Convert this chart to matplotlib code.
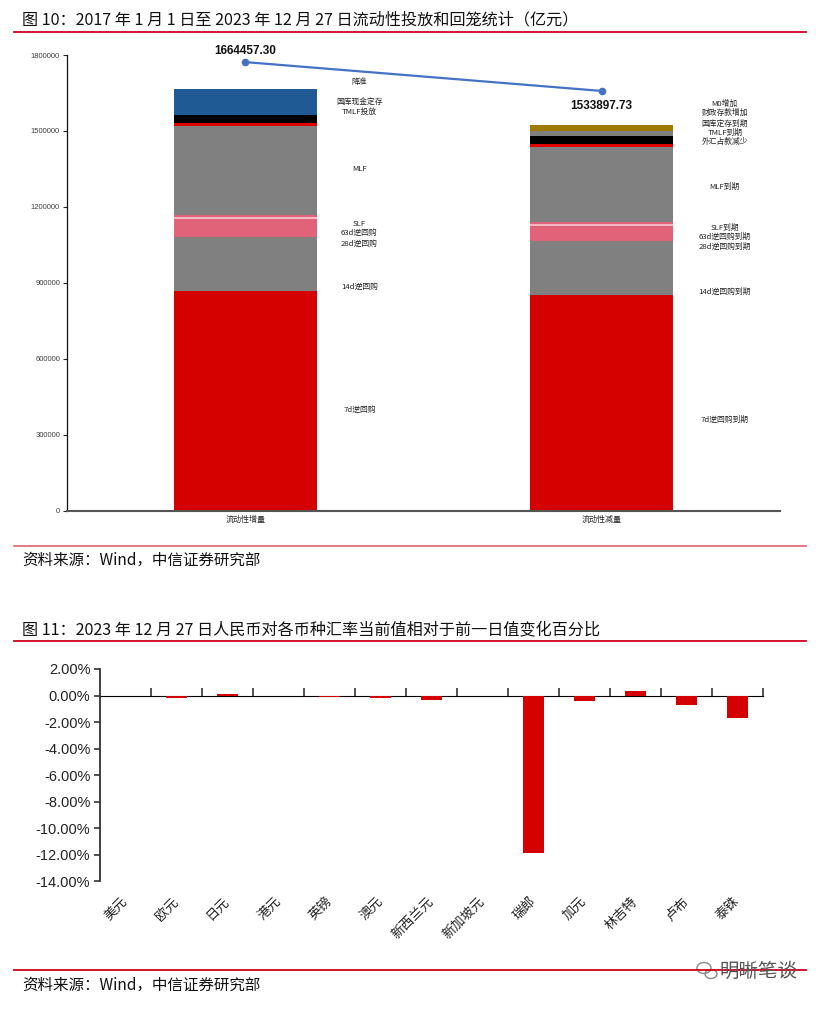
import matplotlib
matplotlib.use('Agg')
import matplotlib.pyplot as plt
from matplotlib.lines import Line2D
from matplotlib.patches import Ellipse
import numpy as np

plt.rcParams['font.family'] = ['Noto Sans CJK SC', 'DejaVu Sans']

# ---------------- data: chart 10 ----------------
flow_categories = ['流动性增量', '流动性减量']
inflow_items = ['7d逆回购', '14d逆回购', '28d逆回购', '63d逆回购', 'SLF', 'MLF',
                'TMLF投放', '国库现金定存', '降准']
inflow_values = [869000, 211000, 72000, 6600, 9200, 351500, 10700, 32800, 101657.30]
outflow_items = ['7d逆回购到期', '14d逆回购到期', '28d逆回购到期', '63d逆回购到期', 'SLF到期',
                 'MLF到期', '外汇占款减少', 'TMLF到期', '国库定存到期', '财政存款增加', 'M0增加']
outflow_values = [853200, 212100, 59200, 6000, 9200, 298100, 11800, 31600, 18600, 23700, 10397.73]
total_labels = ['1664457.30', '1533897.73']
connector_values = [1772000, 1658000]
top_yticks = [0, 300000, 600000, 900000, 1200000, 1500000, 1800000]

# ---------------- data: chart 11 ----------------
currencies = ['美元', '欧元', '日元', '港元', '英镑', '澳元', '新西兰元', '新加坡元',
              '瑞郎', '加元', '林吉特', '卢布', '泰铢']
fx_change = [-0.01, -0.15, 0.08, -0.01, -0.10, -0.22, -0.30, -0.02,
             -11.88, -0.43, 0.33, -0.70, -1.73]
pct_ticks = [2, 0, -2, -4, -6, -8, -10, -12, -14]

# ---------------- styles / layout ----------------
inflow_colors = ['#D50000', '#808080', '#E0637A', '#F2B9C2', '#E0637A', '#808080',
                 '#E00000', '#000000', '#1F5A94']
outflow_colors = ['#D50000', '#808080', '#E0637A', '#F2B9C2', '#E0637A', '#808080',
                  '#E00000', '#000000', '#7F7F7F', '#A07A00', '#FFFFFF']
inflow_label_y = [399000, 882400, 1052300, 1095700, 1131300, 1349700, 1573700, 1615600, 1693000]
outflow_label_y = [358300, 865000, 1042800, 1079900, 1115500, 1279800, 1455200, 1490700,
                   1528700, 1572100, 1606500]
total_label_y = [1817000, 1598600]

W, H = 820, 1009
fig = plt.figure(figsize=(W / 100, H / 100), dpi=100)

def fx(px):
    return px / W

def fy(py):
    return 1 - py / H

red = '#D0021B'
# titles
fig.text(fx(22), fy(20), '图 10：2017 年 1 月 1 日至 2023 年 12 月 27 日流动性投放和回笼统计（亿元）',
         fontsize=11.6, va='center', ha='left', color='#111111')
fig.add_artist(Line2D([fx(14), fx(806)], [fy(32), fy(32)], color=red, lw=1.3))
fig.add_artist(Line2D([fx(14), fx(806)], [fy(546), fy(546)], color='#E26170', lw=1.2))
fig.text(fx(22), fy(560), '资料来源：Wind，中信证券研究部', fontsize=11.2, va='center', ha='left',
         color='#111111')

fig.text(fx(22), fy(631), '图 11：2023 年 12 月 27 日人民币对各币种汇率当前值相对于前一日值变化百分比',
         fontsize=11.6, va='center', ha='left', color='#111111')
fig.add_artist(Line2D([fx(14), fx(806)], [fy(641), fy(641)], color=red, lw=1.3))
fig.add_artist(Line2D([fx(14), fx(806)], [fy(970), fy(970)], color=red, lw=1.3))
fig.text(fx(22), fy(985), '资料来源：Wind，中信证券研究部', fontsize=11.2, va='center', ha='left',
         color='#111111')

# watermark
fig.text(fx(720), fy(971), '明晰笔谈', fontsize=14, va='center', ha='left', color='#555555')
fig.add_artist(Ellipse((fx(704), fy(968)), 14 / W, 11 / H, fill=False, ec='#888888', lw=1,
                       transform=fig.transFigure))
fig.add_artist(Ellipse((fx(711), fy(974)), 12 / W, 9 / H, fill=False, ec='#888888', lw=1,
                       transform=fig.transFigure))

# ---------------- chart 10 ----------------
ax1 = fig.add_axes([fx(67), fy(510.7), fx(780 - 67), (510.7 - 55) / H])
xpos = np.arange(len(flow_categories))
bw = 0.4
bottom = 0.0
for v, c in zip(inflow_values, inflow_colors):
    ax1.bar(xpos[0], v, bw, bottom=bottom, color=c, lw=0)
    bottom += v
bottom = 0.0
for v, c in zip(outflow_values, outflow_colors):
    ax1.bar(xpos[1], v, bw, bottom=bottom, color=c, lw=0)
    bottom += v

for name, y in zip(inflow_items, inflow_label_y):
    ax1.text(xpos[0] + 0.32, y, name, fontsize=5.6, ha='center', va='center', color='#222222')
for name, y in zip(outflow_items, outflow_label_y):
    ax1.text(xpos[1] + 0.345, y, name, fontsize=5.6, ha='center', va='center', color='#222222')

ax1.plot(xpos, connector_values, color='#4472C4', lw=1.6, marker='o', ms=4.5, clip_on=False)
for x, t, y in zip(xpos, total_labels, total_label_y):
    ax1.text(x, y, t, fontsize=8.5, fontweight='bold', ha='center', va='center',
             family=['Liberation Sans', 'DejaVu Sans'], color='#111111')

ax1.set_xlim(-0.5, 1.5)
ax1.set_ylim(0, 1800000)
ax1.set_yticks(top_yticks)
ax1.set_yticklabels([str(t) for t in top_yticks], fontsize=5.5, color='#404040',
                    family=['Liberation Sans', 'DejaVu Sans'])
ax1.set_xticks(xpos)
ax1.set_xticklabels(flow_categories, fontsize=5.8, color='#222222')
ax1.tick_params(axis='x', length=0, pad=3)
ax1.tick_params(axis='y', length=3, width=0.8, pad=2, color='#222222')
for s in ['top', 'right']:
    ax1.spines[s].set_visible(False)
ax1.spines['left'].set_color('#111111')
ax1.spines['left'].set_linewidth(0.9)
ax1.spines['bottom'].set_color('#555555')
ax1.spines['bottom'].set_linewidth(1.5)

# ---------------- chart 11 ----------------
ax2 = fig.add_axes([fx(100), fy(881.3), fx(763 - 100), (881.3 - 669) / H])
cx = np.arange(len(currencies)) + 0.5
ax2.bar(cx, fx_change, 0.4, color='#D50000', lw=0)
ax2.set_xlim(0, len(currencies))
ax2.set_ylim(min(pct_ticks), max(pct_ticks))
ax2.set_yticks(pct_ticks)
ax2.set_yticklabels([f'{t:.2f}%' for t in pct_ticks], fontsize=10.5, color='#222222',
                    family=['Liberation Sans', 'DejaVu Sans'])
ax2.tick_params(axis='y', length=4, width=1.2, color='#333333', pad=3)
ax2.set_xticks(cx)
ax2.set_xticklabels(currencies, rotation=45, ha='right', va='center', rotation_mode='anchor',
                    fontsize=9.5, color='#222222')
ax2.tick_params(axis='x', length=0, pad=13)
for s in ['top', 'right', 'bottom']:
    ax2.spines[s].set_visible(False)
ax2.spines['left'].set_color('#333333')
ax2.spines['left'].set_linewidth(1.3)

zero_frac = (0 - min(pct_ticks)) / (max(pct_ticks) - min(pct_ticks))
sec = ax2.secondary_xaxis(zero_frac)
sec.set_xticks(np.arange(1, len(currencies) + 1))
sec.set_xticklabels([])
sec.tick_params(axis='x', direction='out', length=6, width=1.2, color='#333333')
sec.spines['bottom'].set_color('#111111')
sec.spines['bottom'].set_linewidth(1.2)

fig.savefig('out.png', dpi=100)
